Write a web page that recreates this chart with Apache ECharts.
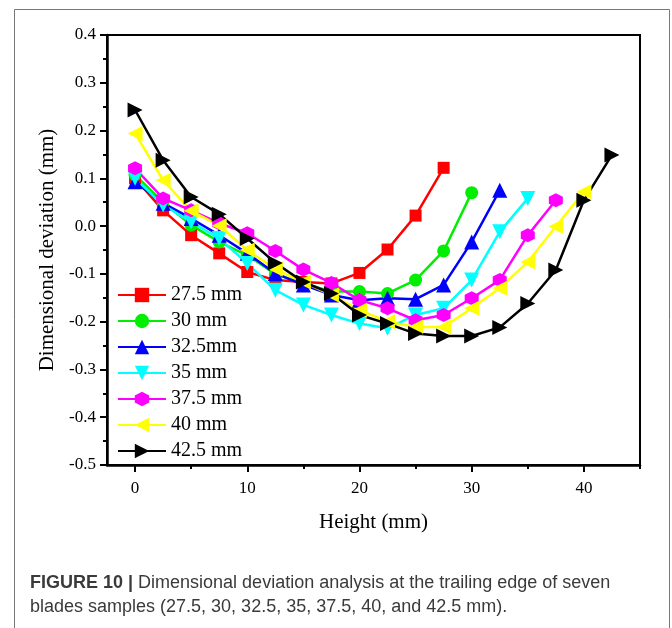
<!DOCTYPE html>
<html>
<head>
<meta charset="utf-8">
<script src="https://cdn.jsdelivr.net/npm/echarts@6/dist/echarts.min.js"></script>
<style>
  html, body { margin: 0; padding: 0; background: #fff; }
  #chart { width: 672px; height: 628px; }
</style>
</head>
<body>
<div id="chart"></div>
<script>
// heights along the trailing edge (mm)
const heights = [0, 2.5, 5, 7.5, 10, 12.5, 15, 17.5, 20, 22.5, 25, 27.5, 30, 32.5, 35, 37.5, 40, 42.5];

const seriesNames = ['27.5 mm', '30 mm', '32.5mm', '35 mm', '37.5 mm', '40 mm', '42.5 mm'];

// deviation values (mm)
const dev275 = [0.100, 0.033, -0.019, -0.057, -0.096, -0.113, -0.117, -0.120, -0.098, -0.049, 0.022, 0.122];
const dev30 = [0.107, 0.050, 0.002, -0.033, -0.061, -0.100, -0.120, -0.137, -0.137, -0.141, -0.113, -0.052, 0.070];
const dev325 = [0.093, 0.048, 0.016, -0.019, -0.057, -0.099, -0.123, -0.144, -0.155, -0.151, -0.153, -0.123, -0.033, 0.075];
const dev35 = [0.100, 0.044, 0.009, -0.026, -0.078, -0.134, -0.165, -0.186, -0.204, -0.214, -0.186, -0.172, -0.113, -0.012, 0.058];
const dev375 = [0.121, 0.058, 0.033, 0.006, -0.015, -0.052, -0.091, -0.119, -0.155, -0.172, -0.197, -0.186, -0.151, -0.113, -0.019, 0.054];
const dev40 = [0.194, 0.096, 0.032, 0.001, -0.050, -0.090, -0.117, -0.144, -0.176, -0.200, -0.211, -0.211, -0.172, -0.130, -0.075, -0.001, 0.072];
const dev425 = [0.243, 0.138, 0.061, 0.025, -0.026, -0.077, -0.117, -0.141, -0.186, -0.204, -0.225, -0.230, -0.230, -0.212, -0.162, -0.092, 0.054, 0.149];

const xMajorTicks = [0, 10, 20, 30, 40];
const xMinorTicks = [5, 15, 25, 35, 45];

const hexagon = 'path://M0,-1L0.866,-0.5L0.866,0.5L0,1L-0.866,0.5L-0.866,-0.5Z';

const styles = [
  { color: '#ff0000', symbol: 'rect', size: 12, rotate: 0 },
  { color: '#00ee00', symbol: 'circle', size: 13, rotate: 0 },
  { color: '#0000ff', symbol: 'triangle', size: 15, rotate: 0 },
  { color: '#00ffff', symbol: 'triangle', size: 15, rotate: 180 },
  { color: '#ff00ff', symbol: hexagon, size: 14, rotate: 0 },
  { color: '#ffff00', symbol: 'triangle', size: 15, rotate: 90 },
  { color: '#000000', symbol: 'triangle', size: 15, rotate: -90 }
];

const allValues = [dev275, dev30, dev325, dev35, dev375, dev40, dev425];

const serif = 'Liberation Serif';

const chart = echarts.init(document.getElementById('chart'), null, { renderer: 'canvas' });

const series = allValues.map((vals, i) => ({
  name: seriesNames[i],
  type: 'line',
  data: vals.map((v, j) => [heights[j], v]),
  symbol: styles[i].symbol,
  symbolSize: styles[i].size,
  symbolRotate: styles[i].rotate,
  itemStyle: { color: styles[i].color },
  lineStyle: { color: styles[i].color, width: 2.5 },
  animation: false
}));

chart.setOption({
  backgroundColor: '#fff',
  animation: false,
  grid: {
    left: 107, right: 32, top: 35, bottom: 163,
    show: true, borderColor: '#000', borderWidth: 2
  },
  legend: {
    orient: 'vertical',
    left: 112, top: 280,
    itemWidth: 48, itemHeight: 18, itemGap: 6,
    textStyle: { fontFamily: serif, fontSize: 20, color: '#000', lineHeight: 20 },
    data: seriesNames
  },
  xAxis: [{
    type: 'value',
    min: -2.5, max: 45,
    name: 'Height (mm)',
    nameLocation: 'middle',
    nameGap: 47,
    nameTextStyle: { fontFamily: serif, fontSize: 21, color: '#000' },
    splitLine: { show: false },
    axisLine: { onZero: false, lineStyle: { color: '#000', width: 2.5 } },
    axisTick: { customValues: xMajorTicks, length: 7, lineStyle: { color: '#000', width: 2 } },
    axisLabel: { customValues: xMajorTicks, fontFamily: serif, fontSize: 17, color: '#000', margin: 15 }
  }, {
    type: 'value',
    min: -2.5, max: 45,
    position: 'bottom',
    splitLine: { show: false },
    axisLine: { show: false, onZero: false },
    axisTick: { customValues: xMinorTicks, length: 4, lineStyle: { color: '#000', width: 2 } },
    axisLabel: { show: false }
  }],
  yAxis: {
    type: 'value',
    min: -0.5, max: 0.4, interval: 0.1,
    name: 'Dimensional deviation (mm)',
    nameLocation: 'middle',
    nameRotate: 90,
    nameGap: 49,
    nameTextStyle: { fontFamily: serif, fontSize: 21, color: '#000' },
    splitLine: { show: false },
    axisLine: { onZero: false, lineStyle: { color: '#000', width: 2.5 } },
    axisTick: { length: 7, lineStyle: { color: '#000', width: 2 } },
    minorTick: { show: true, splitNumber: 2, length: 4, lineStyle: { color: '#000', width: 2 } },
    axisLabel: {
      fontFamily: serif, fontSize: 17, color: '#000', margin: 11,
      formatter: v => v.toFixed(1)
    }
  },
  graphic: [
    {
      type: 'rect',
      shape: { x: 14.5, y: 9.5, width: 655, height: 640 },
      style: { fill: 'none', stroke: '#777', lineWidth: 1 },
      silent: true
    },
    {
      type: 'text',
      left: 30, top: 571,
      style: {
        text: '{b|FIGURE 10 |} Dimensional deviation analysis at the trailing edge of seven\nblades samples (27.5, 30, 32.5, 35, 37.5, 40, and 42.5 mm).',
        fontFamily: 'Liberation Sans',
        fontSize: 18,
        lineHeight: 24,
        fill: '#3a3a3a',
        rich: {
          b: { fontFamily: 'Liberation Sans', fontSize: 18, fontWeight: 'bold', fill: '#3a3a3a' }
        }
      }
    }
  ],
  series: series
});
</script>
</body>
</html>
